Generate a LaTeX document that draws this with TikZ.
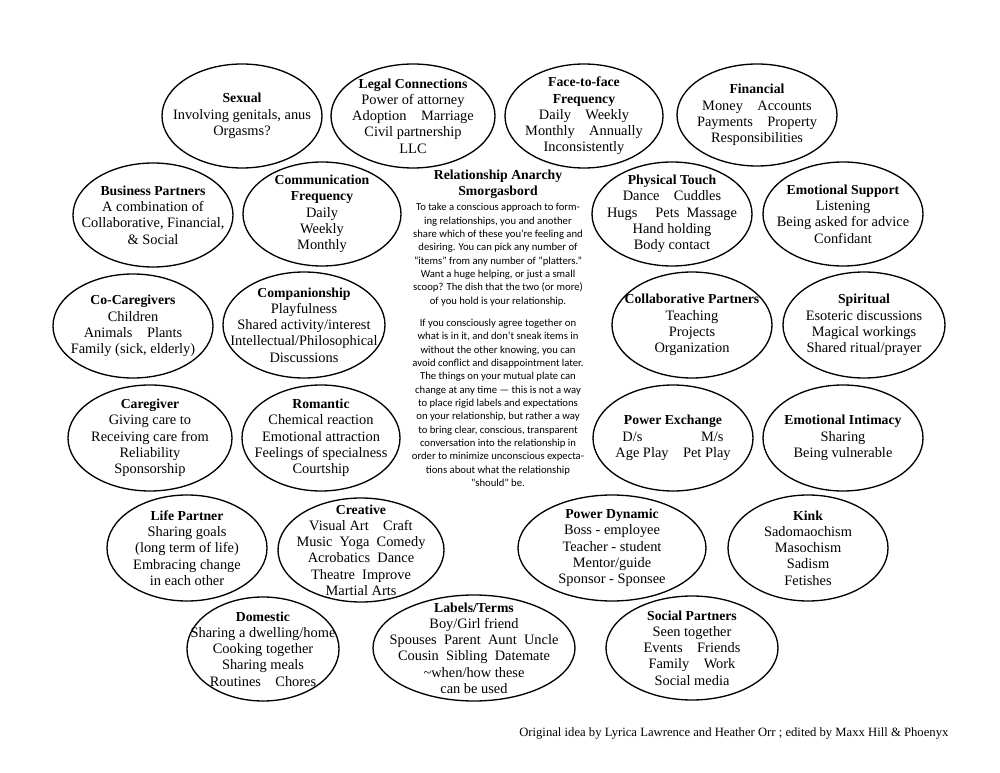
\documentclass[tikz,border=0pt]{standalone}
\usepackage{fontspec}
\setmainfont{Liberation Serif}
\newfontfamily\introfont{Carlito}
\usetikzlibrary{shapes.geometric}
\tikzset{
  oval/.style={draw, ellipse, line width=1pt, inner sep=0pt},
  txt/.style={align=center, inner sep=0pt, font=\fontsize{10.8}{12.2}\selectfont},
  intro/.style={align=center, inner sep=0pt, font=\introfont\fontsize{8}{10}\selectfont},
}
\newcommand\hd[1]{\textbf{\fontsize{10.3}{12.2}\selectfont #1}}
\newcommand\blob[5]{%
  \node[oval, minimum width=#3*1.5pt, minimum height=#4*1.5pt] (#1) at (#2) {};
  \node[txt] (#1-t) at (#1.center) {#5};}
\begin{document}
\begin{tikzpicture}[x=0.75pt, y=-0.75pt]
\useasboundingbox (0,0) rectangle (1000,773);
\fill[white] (0,0) rectangle (1000,773);

\blob{sexual}{242,116}{80}{52}{\hd{Sexual}\\Involving genitals, anus\\Orgasms?}
\blob{legal}{413,116}{82}{52}{\hd{Legal Connections}\\Power of attorney\\Adoption\quad Marriage\\Civil partnership\\LLC}
\blob{face}{584,116}{79}{52}{\hd{Face-to-face}\\\hd{Frequency}\\Daily\quad Weekly\\Monthly\quad Annually\\Inconsistently}
\blob{financial}{757,115}{80}{51}{\hd{Financial}\\Money\quad Accounts\\Payments\quad Property\\Responsibilities}

\blob{business}{153,215}{80}{52}{\hd{Business Partners}\\A combination of\\Collaborative, Financial,\\\& Social}
\blob{commfreq}{322,214}{79}{52}{\hd{Communication}\\\hd{Frequency}\\Daily\\Weekly\\Monthly}
\blob{physical}{672,214}{80}{52}{\hd{Physical Touch}\\Dance\quad Cuddles\\Hugs\quad\ Pets\enspace Massage\\Hand holding\\Body contact}
\blob{emosupport}{843,214}{80}{52}{\hd{Emotional Support}\\Listening\\Being asked for advice\\Confidant}

\blob{cocare}{133,326}{80}{52}{\hd{Co-Caregivers}\\Children\\Animals\quad Plants\\Family (sick, elderly)}
\blob{companion}{304,325}{81}{53}{\hd{Companionship}\\Playfulness\\Shared activity/interest\\Intellectual/Philosophical\\Discussions}
\blob{collab}{692,325}{80}{53}{\hd{Collaborative Partners}\\Teaching\\Projects\\Organization}
\blob{spiritual}{864,325}{81}{53}{\hd{Spiritual}\\Esoteric discussions\\Magical workings\\Shared ritual/prayer}

\blob{caregiver}{150,438}{82}{53}{\hd{Caregiver}\\Giving care to\\Receiving care from\\Reliability\\Sponsorship}
\blob{romantic}{321,438}{79}{53}{\hd{Romantic}\\Chemical reaction\\Emotional attraction\\Feelings of specialness\\Courtship}
\blob{powerex}{673,438}{80}{53}{\hd{Power Exchange}\\D/s\hspace{44pt}M/s\\Age Play\quad Pet Play}
\blob{emointimacy}{843,438}{80}{53}{\hd{Emotional Intimacy}\\Sharing\\Being vulnerable}

\blob{lifepartner}{187,548}{80}{53}{\hd{Life Partner}\\Sharing goals\\(long term of life)\\Embracing change\\in each other}
\blob{creative}{361,550}{83}{52}{\hd{Creative}\\Visual Art\quad Craft\\Music\enspace Yoga\enspace Comedy\\Acrobatics\enspace Dance\\Theatre\enspace Improve\\Martial Arts}
\blob{powerdyn}{612,548}{94}{53}{\hd{Power Dynamic}\\Boss - employee\\Teacher - student\\Mentor/guide\\Sponsor - Sponsee}
\blob{kink}{808,548}{80}{53}{\hd{Kink}\\Sadomaochism\\Masochism\\Sadism\\Fetishes}

\blob{domestic}{263,649}{76}{52}{\hd{Domestic}\\Sharing a dwelling/home\\Cooking together\\Sharing meals\\Routines\quad Chores}
\blob{labels}{474,648}{101}{53}{\hd{Labels/Terms}\\Boy/Girl friend\\Spouses\enspace Parent\enspace Aunt\enspace Uncle\\Cousin\enspace Sibling\enspace Datemate\\\textasciitilde when/how these\\can be used}
\blob{social}{692,648}{86}{52}{\hd{Social Partners}\\Seen together\\Events\quad Friends\\Family\quad Work\\Social media}

\node[txt] (title) at (498,184) {\hd{Relationship Anarchy}\\\hd{Smorgasbord}};
\node[intro] (intro1) at (498,254.5) {To take a conscious approach to form-\\ing relationships, you and another\\share which of these you’re feeling and\\desiring. You can pick any number of\\“items” from any number of “platters.”\\Want a huge helping, or just a small\\scoop? The dish that the two (or more)\\of you hold is your relationship.};
\node[intro] (intro2) at (498,403) {If you consciously agree together on\\what is in it, and don’t sneak items in\\without the other knowing, you can\\avoid conflict and disappointment later.\\The things on your mutual plate can\\change at any time — this is not a way\\to place rigid labels and expectations\\on your relationship, but rather a way\\to bring clear, conscious, transparent\\conversation into the relationship in\\order to minimize unconscious expecta-\\tions about what the relationship\\"should" be.};

\node[anchor=west, inner sep=0pt, font=\fontsize{9.5}{11}\selectfont] (credit) at (519,733) {Original idea by Lyrica Lawrence and Heather Orr ; edited by Maxx Hill \& Phoenyx};
\end{tikzpicture}
\end{document}
